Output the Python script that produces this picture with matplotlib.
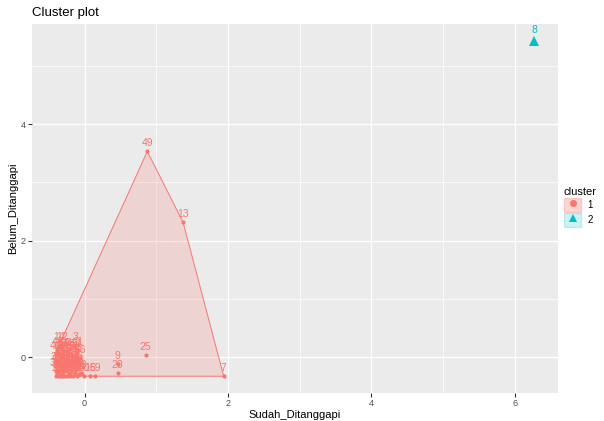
import numpy as np
import matplotlib
matplotlib.use("Agg")
from matplotlib import pyplot as plt
from matplotlib.patches import Patch, Polygon
from matplotlib.lines import Line2D

plt.rcParams['font.family'] = ['Liberation Sans', 'DejaVu Sans']

# cluster 1 points (standardized values)
c1_labels = ['49', '13', '7', '25', '9', '20', '15', '69', '50', '1',
             '14', '12', '3', '40', '4', '34', '46', '60', '51', '11',
             '2', '18', '27', '17', '47', '5', '6', '30', '21', '33',
             '38', '44', '52', '16', '31', '35', '41', '23', '57', '62',
             '10', '19', '22', '24', '26', '28', '29', '32', '36', '37',
             '39', '42', '43', '45', '48', '53', '54', '55', '56', '58',
             '59', '61', '63', '64', '65', '66', '67', '68']
c1_x = [0.875, 1.375, 1.94, 0.85, 0.46, 0.46, 0.08, 0.15, -0.01, -0.04,
        -0.36, -0.32, -0.13, -0.40, -0.36, -0.30, -0.24, -0.14, -0.10, -0.10,
        -0.40, -0.35, -0.28, -0.22, -0.18, -0.12, -0.07, -0.40, -0.36, -0.32,
        -0.26, -0.20, -0.15, -0.09, -0.40, -0.35, -0.30, -0.25, -0.19, -0.13,
        -0.40, -0.36, -0.33, -0.30, -0.27, -0.24, -0.20, -0.16, -0.11, -0.37,
        -0.22, -0.32, -0.05, -0.28, -0.38, -0.25, -0.33, -0.18, -0.06, -0.38,
        -0.23, -0.16, -0.14, -0.30, -0.27, -0.08, -0.34, -0.21]
c1_y = [3.53, 2.31, -0.33, 0.03, -0.12, -0.28, -0.33, -0.33, -0.33, -0.30,
        0.19, 0.19, 0.19, 0.04, 0.06, 0.04, 0.04, 0.04, 0.08, 0.12,
        -0.06, -0.06, -0.08, -0.10, -0.10, -0.10, -0.12, -0.15, -0.15, -0.18,
        -0.18, -0.20, -0.18, -0.20, -0.24, -0.24, -0.26, -0.24, -0.26, -0.24,
        -0.33, -0.33, -0.33, -0.33, -0.33, -0.33, -0.33, -0.33, -0.33, -0.29,
        -0.29, -0.29, -0.28, -0.12, 0.12, 0.10, -0.02, 0.00, -0.02, -0.20,
        -0.14, -0.06, -0.28, 0.10, -0.22, -0.30, -0.10, 0.07]

# cluster 2
c2_labels = ['8']
c2_x = [6.27]
c2_y = [5.43]

col1 = '#F8766D'
col2 = '#00BFC4'


def hull(xs, ys):
    pts = sorted(set(zip(xs, ys)))
    if len(pts) < 3:
        return pts

    def cross(o, a, b):
        return (a[0] - o[0]) * (b[1] - o[1]) - (a[1] - o[1]) * (b[0] - o[0])
    lower, upper = [], []
    for p in pts:
        while len(lower) >= 2 and cross(lower[-2], lower[-1], p) <= 0:
            lower.pop()
        lower.append(p)
    for p in reversed(pts):
        while len(upper) >= 2 and cross(upper[-2], upper[-1], p) <= 0:
            upper.pop()
        upper.append(p)
    return lower[:-1] + upper[:-1]


fig = plt.figure(figsize=(6.04, 4.21), dpi=100)
ax = fig.add_axes([32 / 604, 1 - 393 / 421, 526 / 604, 369 / 421])
ax.set_facecolor('#EBEBEB')
for s in ax.spines.values():
    s.set_visible(False)

ax.set_xticks([0, 2, 4, 6])
ax.set_yticks([0, 2, 4])
ax.set_xticks([-1, 1, 3, 5], minor=True)
ax.set_yticks([1, 3, 5], minor=True)
ax.grid(which='major', color='white', lw=1.0)
ax.grid(which='minor', color='white', lw=0.5)
ax.set_axisbelow(True)
ax.tick_params(which='major', length=3, color='#333333', labelcolor='#4D4D4D',
               labelsize=6.5, width=0.8, pad=1.5)
ax.tick_params(which='minor', length=0)

# hull
h = hull(c1_x, c1_y)
ax.add_patch(Polygon(h, closed=True, facecolor=col1, alpha=0.2, edgecolor='none', zorder=1))
ax.add_patch(Polygon(h, closed=True, facecolor='none', edgecolor=col1, lw=0.7, zorder=2))

ax.plot(c1_x, c1_y, 'o', color=col1, ms=3, mew=0, zorder=3)
ax.plot(c2_x, c2_y, '^', color=col2, ms=3, mew=0, zorder=3)
# cluster centres
ax.plot(np.mean(c1_x), np.mean(c1_y), 'o', color=col1, ms=6, mew=0, zorder=3)
ax.plot(np.mean(c2_x), np.mean(c2_y), '^', color=col2, ms=7, mew=0, zorder=3)

for lab, x, y in zip(c1_labels, c1_x, c1_y):
    ax.annotate(lab, (x, y), xytext=(0, 2.5), textcoords='offset points',
                ha='center', va='bottom', color=col1, fontsize=7.5, zorder=4)
for lab, x, y in zip(c2_labels, c2_x, c2_y):
    ax.annotate(lab, (x, y), xytext=(0, 4), textcoords='offset points',
                ha='center', va='bottom', color=col2, fontsize=7.5, zorder=4)

allx = c1_x + c2_x
ally = c1_y + c2_y
dx = (max(allx) - min(allx)) * 0.05
dy = (max(ally) - min(ally)) * 0.05
ax.set_xlim(min(allx) - dx, max(allx) + dx)
ax.set_ylim(min(ally) - dy, max(ally) + dy)

ax.set_xlabel('Sudah_Ditanggapi', fontsize=8, color='black', labelpad=1)
ax.set_ylabel('Belum_Ditanggapi', fontsize=8, color='black', labelpad=2)
fig.text(32 / 604, 1 - 13 / 421, 'Cluster plot', fontsize=9.5, va='center', ha='left')

handles = [(Patch(facecolor=col1, alpha=0.3, edgecolor=col1),
            Line2D([], [], marker='o', color=col1, ls='', ms=5, mew=0)),
           (Patch(facecolor=col2, alpha=0.2, edgecolor=col2),
            Line2D([], [], marker='^', color=col2, ls='', ms=6, mew=0))]
leg = fig.legend(handles, ['1', '2'], title='cluster', loc='upper left',
                 bbox_to_anchor=(557 / 604, 1 - 180 / 421), frameon=False,
                 fontsize=7, title_fontsize=8, handlelength=1.8, handleheight=1.8,
                 handletextpad=0.6, labelspacing=0.15, borderpad=0.2)
leg._legend_box.align = 'left'

fig.savefig('out.png', dpi=100)
